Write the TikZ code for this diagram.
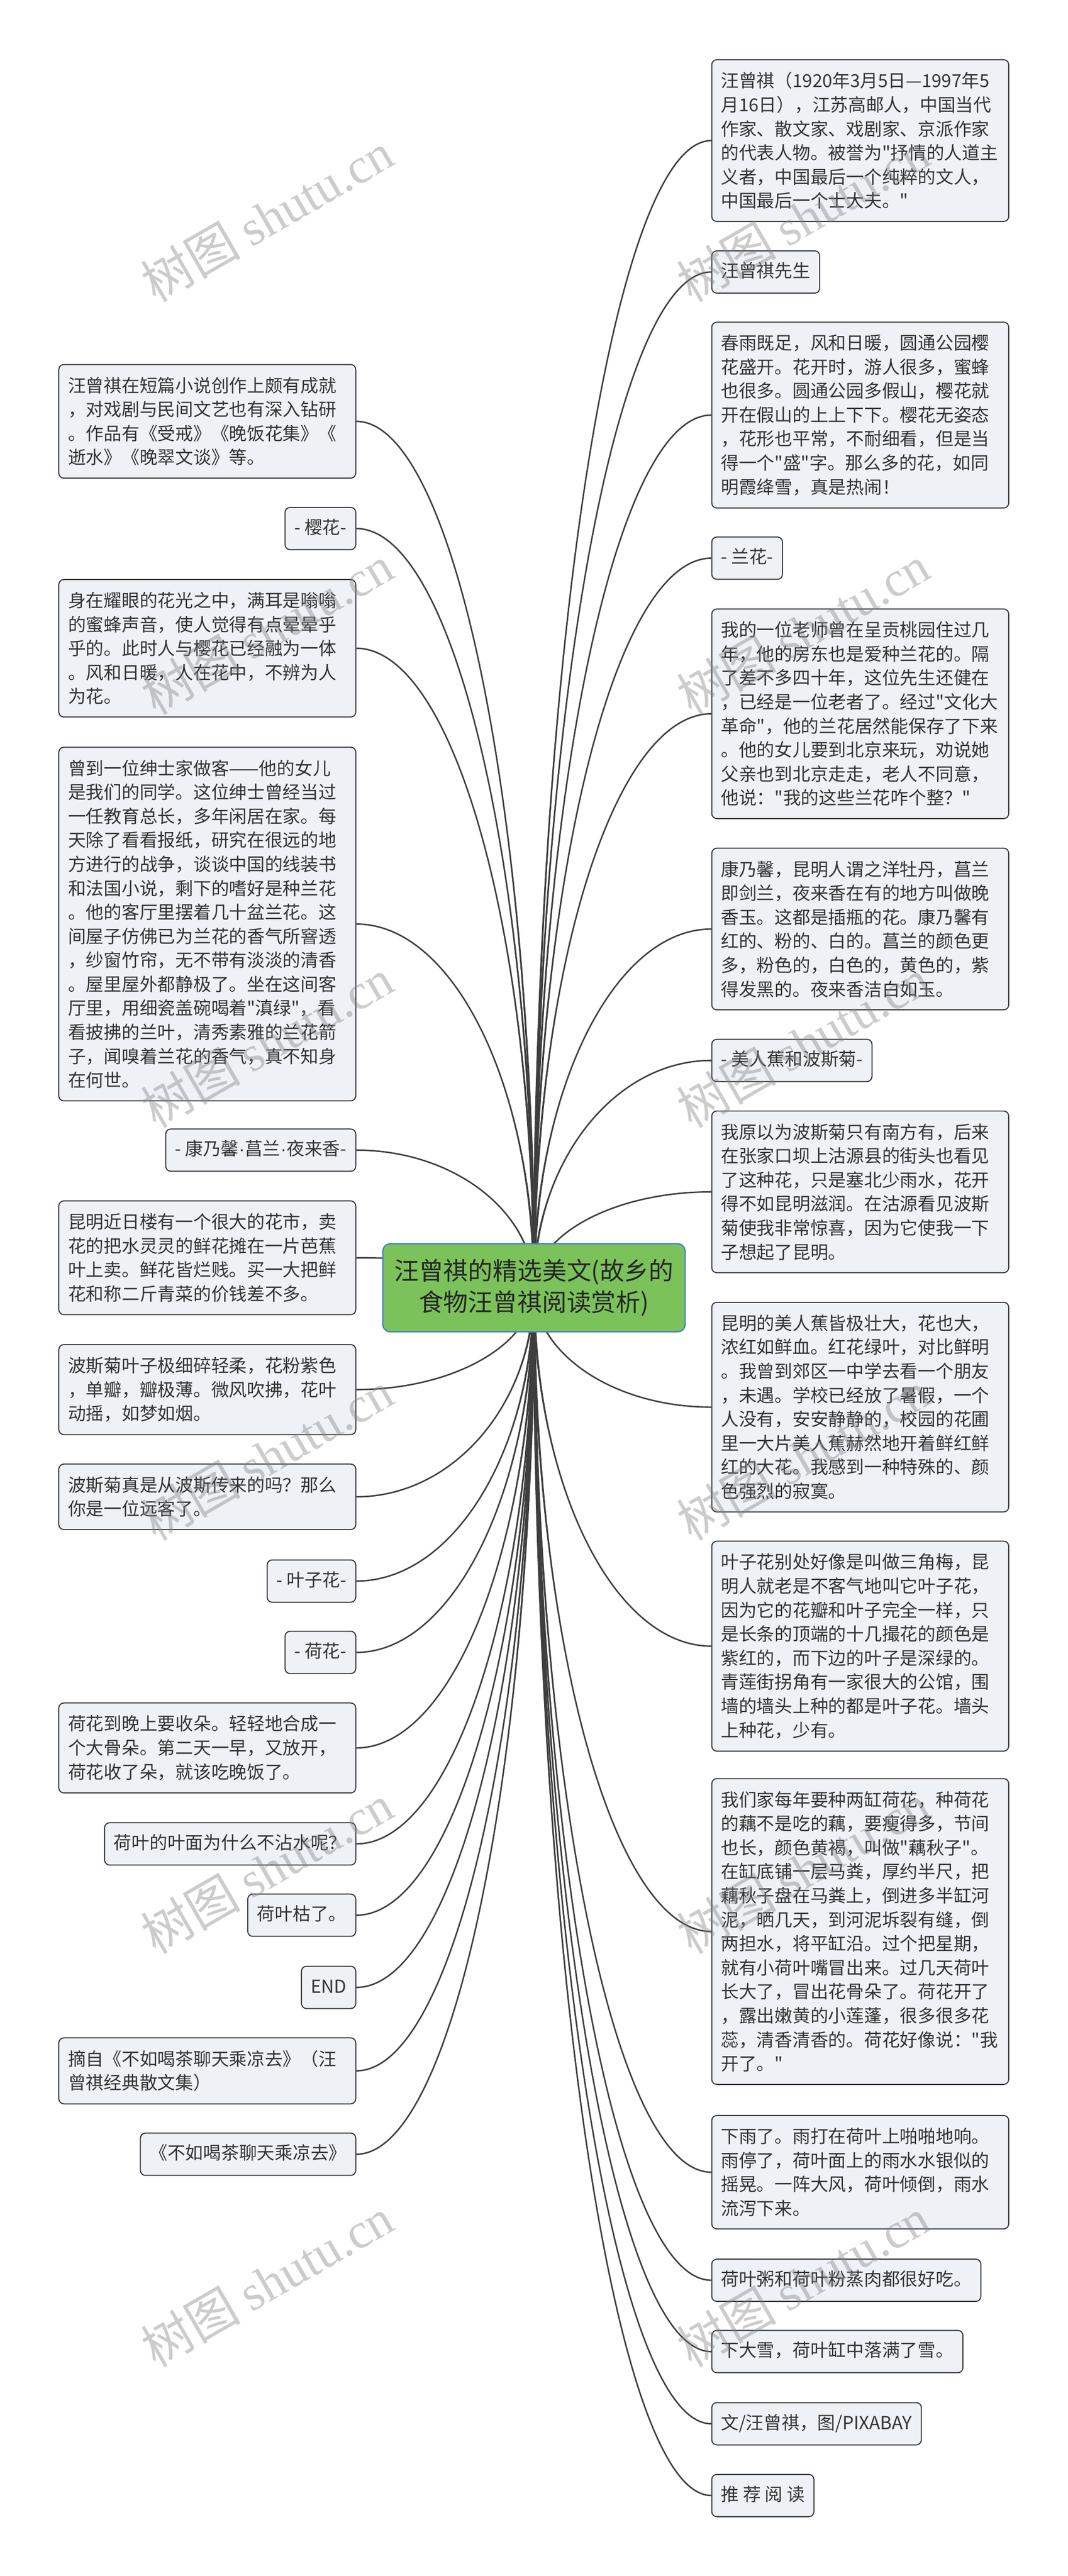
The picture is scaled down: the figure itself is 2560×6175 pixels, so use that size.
\documentclass[tikz,border=0pt]{standalone}
\usepackage{fontspec}
\newfontfamily\cjk{Noto Sans CJK SC}
\newfontfamily\latin{Liberation Sans}
\newfontfamily\wmserif{Liberation Serif}
\usetikzlibrary{calc,backgrounds}
\definecolor{boxfill}{RGB}{238,241,245}
\definecolor{boxline}{RGB}{51,51,51}
\definecolor{txt}{RGB}{51,51,51}
\definecolor{branchcol}{RGB}{62,62,62}
\definecolor{rootfill}{RGB}{124,194,91}
\definecolor{rootline}{RGB}{66,128,196}
\definecolor{roottxt}{RGB}{38,38,38}
\setlength{\parindent}{0pt}
\tikzset{
	box/.style={draw=boxline,fill=boxfill,line width=0.7pt,rounded corners=3.4pt,inner xsep=6.3pt,inner ysep=8.5pt,text=txt,font=\cjk\fontsize{12.2pt}{16.36pt}\selectfont},
	wide/.style={box,text width=189.8pt,align=left},
	tag/.style={box,text height=9.6pt,text depth=2.2pt},
	rside/.style={anchor=west},
	lside/.style={anchor=east},
	maintopic/.style={draw=rootline,fill=rootfill,line width=0.85pt,rounded corners=5pt,minimum width=206pt,minimum height=60pt,align=center,text=roottxt,font=\cjk\fontsize{16.8pt}{21.3pt}\selectfont},
	branchline/.style={branchcol,line width=1pt},
	wmark/.style={rotate=30,text=gray,opacity=0.4,font=\cjk\fontsize{34pt}{34pt}\selectfont}
}
\newcommand\branch[2]{%
	\coordinate (bend) at (root.center |- #1.#2);
	\fill[branchcol] ($(root.center)+(-3,0)$) .. controls ($(root.center)!.55!(bend)+(-1.5,0)$) and ($(#1.#2)!.55!(bend)$) .. (#1.#2) .. controls ($(#1.#2)!.55!(bend)$) and ($(root.center)!.55!(bend)+(1.5,0)$) .. ($(root.center)+(3,0)$) -- cycle;
	\draw[branchline] (root.center) .. controls ($(root.center)!.55!(bend)$) and ($(#1.#2)!.55!(bend)$) .. (#1.#2);
}

\begin{document}
\begin{tikzpicture}[x=0.01cm,y=-0.01cm]
	\useasboundingbox (0,0) rectangle (2560,6175);

	\node [maintopic] (root) at (1280,3087) {汪曾祺的精选美文(故乡的\\食物汪曾祺阅读赏析)};

	\node [wide,rside] (r1) at (1705,337) {汪曾祺（1920年3月5日—1997年5\\月16日），江苏高邮人，中国当代\\作家、散文家、戏剧家、京派作家\\的代表人物。被誉为"抒情的人道主\\义者，中国最后一个纯粹的文人，\\中国最后一个士大夫。"};
	\node [tag,rside] (r2) at (1705,652) {汪曾祺先生};
	\node [wide,rside] (r3) at (1705,995) {春雨既足，风和日暖，圆通公园樱\\花盛开。花开时，游人很多，蜜蜂\\也很多。圆通公园多假山，樱花就\\开在假山的上上下下。樱花无姿态\\，花形也平常，不耐细看，但是当\\得一个"盛"字。那么多的花，如同\\明霞绛雪，真是热闹！};
	\node [tag,rside] (r4) at (1705,1338) {- 兰花-};
	\node [wide,rside] (r5) at (1705,1711) {我的一位老师曾在呈贡桃园住过几\\年，他的房东也是爱种兰花的。隔\\了差不多四十年，这位先生还健在\\，已经是一位老者了。经过"文化大\\革命"，他的兰花居然能保存了下来\\。他的女儿要到北京来玩，劝说她\\父亲也到北京走走，老人不同意，\\他说："我的这些兰花咋个整？"};
	\node [wide,rside] (r6) at (1705,2227) {康乃馨，昆明人谓之洋牡丹，菖兰\\即剑兰，夜来香在有的地方叫做晚\\香玉。这都是插瓶的花。康乃馨有\\红的、粉的、白的。菖兰的颜色更\\多，粉色的，白色的，黄色的，紫\\得发黑的。夜来香洁白如玉。};
	\node [tag,rside] (r7) at (1705,2542) {- 美人蕉和波斯菊-};
	\node [wide,rside] (r8) at (1705,2857) {我原以为波斯菊只有南方有，后来\\在张家口坝上沽源县的街头也看见\\了这种花，只是塞北少雨水，花开\\得不如昆明滋润。在沽源看见波斯\\菊使我非常惊喜，因为它使我一下\\子想起了昆明。};
	\node [wide,rside] (r9) at (1705,3373) {昆明的美人蕉皆极壮大，花也大，\\浓红如鲜血。红花绿叶，对比鲜明\\。我曾到郊区一中学去看一个朋友\\，未遇。学校已经放了暑假，一个\\人没有，安安静静的，校园的花圃\\里一大片美人蕉赫然地开着鲜红鲜\\红的大花。我感到一种特殊的、颜\\色强烈的寂寞。};
	\node [wide,rside] (r10) at (1705,3946) {叶子花别处好像是叫做三角梅，昆\\明人就老是不客气地叫它叶子花，\\因为它的花瓣和叶子完全一样，只\\是长条的顶端的十几撮花的颜色是\\紫红的，而下边的叶子是深绿的。\\青莲街拐角有一家很大的公馆，围\\墙的墙头上种的都是叶子花。墙头\\上种花，少有。};
	\node [wide,rside] (r11) at (1705,4630) {我们家每年要种两缸荷花，种荷花\\的藕不是吃的藕，要瘦得多，节间\\也长，颜色黄褐，叫做"藕秋子"。\\在缸底铺一层马粪，厚约半尺，把\\藕秋子盘在马粪上，倒进多半缸河\\泥，晒几天，到河泥坼裂有缝，倒\\两担水，将平缸沿。过个把星期，\\就有小荷叶嘴冒出来。过几天荷叶\\长大了，冒出花骨朵了。荷花开了\\，露出嫩黄的小莲蓬，很多很多花\\蕊，清香清香的。荷花好像说："我\\开了。"};
	\node [wide,rside] (r12) at (1705,5207) {下雨了。雨打在荷叶上啪啪地响。\\雨停了，荷叶面上的雨水水银似的\\摇晃。一阵大风，荷叶倾倒，雨水\\流泻下来。};
	\node [tag,rside] (r13) at (1705,5466) {荷叶粥和荷叶粉蒸肉都很好吃。};
	\node [tag,rside] (r14) at (1705,5637) {下大雪，荷叶缸中落满了雪。};
	\node [tag,rside] (r15) at (1705,5810) {文/汪曾祺，图/PIXABAY};
	\node [tag,rside] (r16) at (1705,5982) {推 荐 阅 读};

	\node [wide,lside] (l1) at (854,1010) {汪曾祺在短篇小说创作上颇有成就\\，对戏剧与民间文艺也有深入钻研\\。作品有《受戒》《晚饭花集》《\\逝水》《晚翠文谈》等。};
	\node [tag,lside] (l2) at (854,1267) {- 樱花-};
	\node [wide,lside] (l3) at (854,1554) {身在耀眼的花光之中，满耳是嗡嗡\\的蜜蜂声音，使人觉得有点晕晕乎\\乎的。此时人与樱花已经融为一体\\。风和日暖，人在花中，不辨为人\\为花。};
	\node [wide,lside] (l4) at (854,2215) {曾到一位绅士家做客——他的女儿\\是我们的同学。这位绅士曾经当过\\一任教育总长，多年闲居在家。每\\天除了看看报纸，研究在很远的地\\方进行的战争，谈谈中国的线装书\\和法国小说，剩下的嗜好是种兰花\\。他的客厅里摆着几十盆兰花。这\\间屋子仿佛已为兰花的香气所窨透\\，纱窗竹帘，无不带有淡淡的清香\\。屋里屋外都静极了。坐在这间客\\厅里，用细瓷盖碗喝着"滇绿"，看\\看披拂的兰叶，清秀素雅的兰花箭\\子，闻嗅着兰花的香气，真不知身\\在何世。};
	\node [tag,lside] (l5) at (854,2757) {- 康乃馨{\latin ·}菖兰{\latin ·}夜来香-};
	\node [wide,lside] (l6) at (854,3015) {昆明近日楼有一个很大的花市，卖\\花的把水灵灵的鲜花摊在一片芭蕉\\叶上卖。鲜花皆烂贱。买一大把鲜\\花和称二斤青菜的价钱差不多。};
	\node [wide,lside] (l7) at (854,3331) {波斯菊叶子极细碎轻柔，花粉紫色\\，单瓣，瓣极薄。微风吹拂，花叶\\动摇，如梦如烟。};
	\node [wide,lside] (l8) at (854,3588) {波斯菊真是从波斯传来的吗？那么\\你是一位远客了。};
	\node [tag,lside] (l9) at (854,3790) {- 叶子花-};
	\node [tag,lside] (l10) at (854,3961) {- 荷花-};
	\node [wide,lside] (l11) at (854,4190) {荷花到晚上要收朵。轻轻地合成一\\个大骨朵。第二天一早，又放开，\\荷花收了朵，就该吃晚饭了。};
	\node [tag,lside] (l12) at (854,4420) {荷叶的叶面为什么不沾水呢？};
	\node [tag,lside] (l13) at (854,4591) {荷叶枯了。};
	\node [tag,lside] (l14) at (854,4764) {END};
	\node [wide,lside] (l15) at (854,4964) {摘自《不如喝茶聊天乘凉去》（汪\\曾祺经典散文集）};
	\node [tag,lside] (l16) at (854,5164) {《不如喝茶聊天乘凉去》};

	\begin{pgfonlayer}{background}
		\fill[white] (0,0) rectangle (2560,6175);
		\branch{r1}{west}
		\branch{r2}{west}
		\branch{r3}{west}
		\branch{r4}{west}
		\branch{r5}{west}
		\branch{r6}{west}
		\branch{r7}{west}
		\branch{r8}{west}
		\branch{r9}{west}
		\branch{r10}{west}
		\branch{r11}{west}
		\branch{r12}{west}
		\branch{r13}{west}
		\branch{r14}{west}
		\branch{r15}{west}
		\branch{r16}{west}
		\branch{l1}{east}
		\branch{l2}{east}
		\branch{l3}{east}
		\branch{l4}{east}
		\branch{l5}{east}
		\branch{l6}{east}
		\branch{l7}{east}
		\branch{l8}{east}
		\branch{l9}{east}
		\branch{l10}{east}
		\branch{l11}{east}
		\branch{l12}{east}
		\branch{l13}{east}
		\branch{l14}{east}
		\branch{l15}{east}
		\branch{l16}{east}
	\end{pgfonlayer}

	\node [wmark] (wm1) at (640,520) {树图 {\wmserif shutu.cn}};
	\node [wmark] (wm2) at (1925,520) {树图 {\wmserif shutu.cn}};
	\node [wmark] (wm3) at (640,1510) {树图 {\wmserif shutu.cn}};
	\node [wmark] (wm4) at (1925,1510) {树图 {\wmserif shutu.cn}};
	\node [wmark] (wm5) at (640,2500) {树图 {\wmserif shutu.cn}};
	\node [wmark] (wm6) at (1925,2500) {树图 {\wmserif shutu.cn}};
	\node [wmark] (wm7) at (640,3490) {树图 {\wmserif shutu.cn}};
	\node [wmark] (wm8) at (1925,3490) {树图 {\wmserif shutu.cn}};
	\node [wmark] (wm9) at (640,4480) {树图 {\wmserif shutu.cn}};
	\node [wmark] (wm10) at (1925,4480) {树图 {\wmserif shutu.cn}};
	\node [wmark] (wm11) at (640,5470) {树图 {\wmserif shutu.cn}};
	\node [wmark] (wm12) at (1925,5470) {树图 {\wmserif shutu.cn}};
\end{tikzpicture}
\end{document}
